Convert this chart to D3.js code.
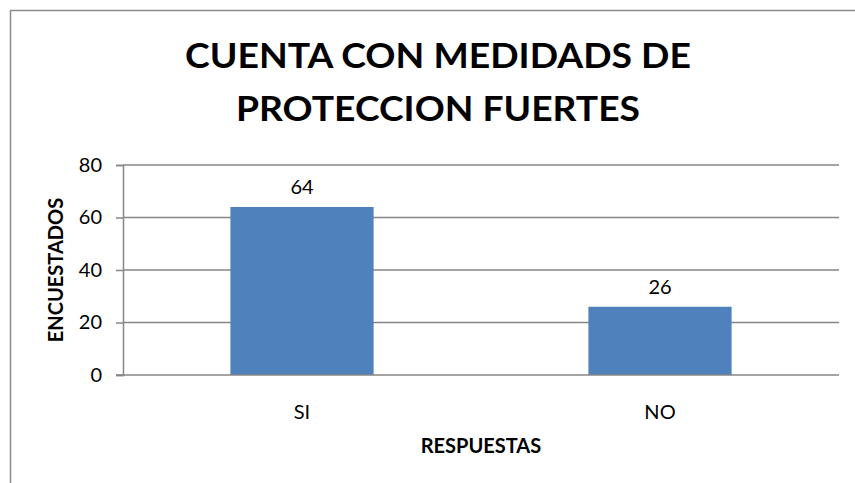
<!DOCTYPE html>
<html>
<head>
<meta charset="utf-8">
<script src="https://cdn.jsdelivr.net/npm/d3@7"></script>
<style>
  body { margin: 0; background: #fff; }
  svg { display: block; font-family: Lato, "Liberation Sans", sans-serif; }
</style>
</head>
<body>
<svg width="855" height="483"></svg>
<script>
// data
const categories = ['SI', 'NO'];
const values = [64, 26];
const yTicks = [0, 20, 40, 60, 80];
const titleLines = ['CUENTA CON MEDIDADS DE', 'PROTECCION FUERTES'];

const svg = d3.select('svg');
const width = +svg.attr('width');
const height = +svg.attr('height');

// chart frame
svg.append('rect')
    .attr('x', 10.5)
    .attr('y', 10.5)
    .attr('width', 870)
    .attr('height', 500)
    .attr('fill', 'none')
    .attr('stroke', '#8c8c8c')
    .attr('stroke-width', 1.5);

const margin = { left: 123, right: 855 - 839, top: 165, bottom: 483 - 375 };

const x = d3.scaleBand()
    .domain(categories)
    .range([margin.left, width - margin.right])
    .paddingInner(0.6)
    .paddingOuter(0.3);

const y = d3.scaleLinear()
    .domain([0, 80])
    .range([height - margin.bottom, margin.top]);

// gridlines + y axis
const yAxis = svg.append('g')
    .attr('transform', `translate(${margin.left},0)`)
    .call(d3.axisLeft(y).tickValues(yTicks).tickSize(7).tickPadding(14));
yAxis.select('.domain').attr('stroke', '#868686').attr('stroke-width', 1.5);
yAxis.selectAll('.tick line').attr('stroke', '#868686').attr('stroke-width', 1.5);
yAxis.selectAll('.tick text')
    .attr('font-size', 20)
    .attr('fill', '#000')
    .attr('font-family', 'Lato, sans-serif');

svg.append('g')
    .selectAll('line')
    .data(yTicks.filter(d => d > 0))
    .join('line')
    .attr('x1', margin.left)
    .attr('x2', width - margin.right)
    .attr('y1', d => y(d))
    .attr('y2', d => y(d))
    .attr('stroke', '#868686')
    .attr('stroke-width', 1.5);

// bars
svg.append('g')
    .selectAll('rect')
    .data(values)
    .join('rect')
    .attr('x', (d, i) => x(categories[i]))
    .attr('y', d => y(d))
    .attr('width', x.bandwidth())
    .attr('height', d => y(0) - y(d))
    .attr('fill', '#4F81BD');

// x axis line
svg.append('line')
    .attr('x1', margin.left - 7)
    .attr('x2', width - margin.right)
    .attr('y1', y(0))
    .attr('y2', y(0))
    .attr('stroke', '#868686')
    .attr('stroke-width', 1.5);

// data labels
svg.append('g')
    .selectAll('text')
    .data(values)
    .join('text')
    .attr('x', (d, i) => x(categories[i]) + x.bandwidth() / 2)
    .attr('y', d => y(d) - 13)
    .attr('text-anchor', 'middle')
    .attr('font-size', 20)
    .text(d => d);

// category labels
svg.append('g')
    .selectAll('text')
    .data(categories)
    .join('text')
    .attr('x', d => x(d) + x.bandwidth() / 2)
    .attr('y', 419)
    .attr('text-anchor', 'middle')
    .attr('font-size', 20)
    .text(d => d);

// title
const titleWidths = [506, 404];
svg.append('g')
    .selectAll('text')
    .data(titleLines)
    .join('text')
    .attr('x', (d, i) => 438 - titleWidths[i] / 2)
    .attr('y', (d, i) => 68 + i * 53)
    .attr('font-size', 35)
    .attr('font-weight', 'bold')
    .attr('textLength', (d, i) => titleWidths[i])
    .attr('lengthAdjust', 'spacingAndGlyphs')
    .text(d => d);

// axis titles
svg.append('text')
    .attr('x', (margin.left + width - margin.right) / 2)
    .attr('y', 453)
    .attr('text-anchor', 'middle')
    .attr('font-size', 20)
    .attr('font-weight', 'bold')
    .text('RESPUESTAS');

svg.append('text')
    .attr('transform', `translate(63,${(y(0) + y(80)) / 2}) rotate(-90)`)
    .attr('text-anchor', 'middle')
    .attr('font-size', 20)
    .attr('font-weight', 'bold')
    .text('ENCUESTADOS');
</script>
</body>
</html>
